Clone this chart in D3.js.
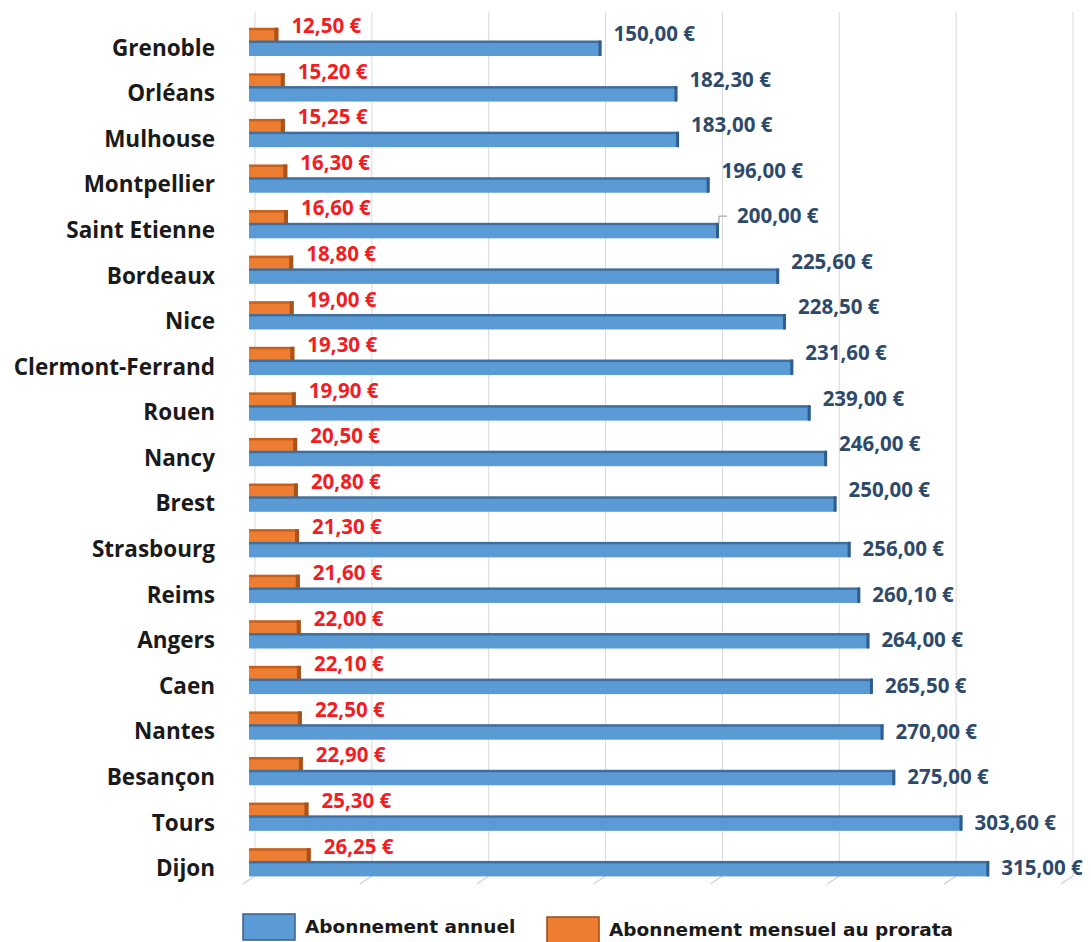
<!DOCTYPE html>
<html>
<head>
<meta charset="utf-8">
<script src="https://cdn.jsdelivr.net/npm/d3@7"></script>
<style>
  body { margin: 0; background: #fff; }
  svg { display: block; }
</style>
</head>
<body>
<div id="chart"></div>
<script>
// data
const cities = ["Grenoble", "Orléans", "Mulhouse", "Montpellier", "Saint Etienne", "Bordeaux", "Nice",
  "Clermont-Ferrand", "Rouen", "Nancy", "Brest", "Strasbourg", "Reims", "Angers", "Caen", "Nantes",
  "Besançon", "Tours", "Dijon"];
const annual = [150, 182.3, 183, 196, 200, 225.6, 228.5, 231.6, 239, 246, 250, 256, 260.1, 264, 265.5,
  270, 275, 303.6, 315];
const monthly = [12.5, 15.2, 15.25, 16.3, 16.6, 18.8, 19, 19.3, 19.9, 20.5, 20.8, 21.3, 21.6, 22, 22.1,
  22.5, 22.9, 25.3, 26.25];
const gridTicks = [0, 50, 100, 150, 200, 250, 300, 350];
const seriesNames = ["Abonnement annuel", "Abonnement mensuel au prorata"];

const width = 1091;
const height = 942;

const fmt = (v) => v.toFixed(2).replace(".", ",") + " €";

const svg = d3.select("#chart").append("svg")
  .attr("width", width)
  .attr("height", height);

// front face scale and back wall scale (3D look)
const x = d3.scaleLinear().domain([0, 350]).range([249, 1071.5]);
const xBack = d3.scaleLinear().domain([0, 350]).range([255, 1073]);
const y = d3.scaleBand().domain(cities).range([25, 891]).paddingInner(0);
const bw = y.bandwidth();

// back wall gridlines + slanted floor ticks
const grid = svg.append("g");
grid.selectAll("line.grid")
  .data(gridTicks)
  .enter()
  .append("line")
  .attr("x1", (d) => xBack(d))
  .attr("x2", (d) => xBack(d))
  .attr("y1", 12)
  .attr("y2", 876)
  .attr("stroke", "#d9d9d9")
  .attr("stroke-width", 1);
grid.selectAll("line.floor")
  .data(gridTicks)
  .enter()
  .append("line")
  .attr("x1", (d) => xBack(d))
  .attr("x2", (d) => xBack(d) - 12)
  .attr("y1", 876)
  .attr("y2", 884)
  .attr("stroke", "#d0d0d0")
  .attr("stroke-width", 1.2);

const rows = svg.selectAll(".row")
  .data(cities.map((c, i) => ({ city: c, annual: annual[i], monthly: monthly[i], i })))
  .enter()
  .append("g")
  .attr("class", "row");

// orange bar (monthly) - behind, slightly above
rows.append("rect")
  .attr("x", x(0))
  .attr("y", (d) => y(d.city) + bw * 0.1)
  .attr("width", (d) => x(d.monthly) - x(0))
  .attr("height", bw * 0.3)
  .attr("fill", "#ed7d31");
rows.append("rect") // top face
  .attr("x", x(0))
  .attr("y", (d) => y(d.city) + bw * 0.06)
  .attr("width", (d) => x(d.monthly) - x(0))
  .attr("height", 2.5)
  .attr("fill", "#c65f1c");
rows.append("rect") // right side
  .attr("x", (d) => x(d.monthly) - 4)
  .attr("y", (d) => y(d.city) + bw * 0.06)
  .attr("width", 4)
  .attr("height", bw * 0.34)
  .attr("fill", "#a9521a");

// blue bar (annual)
rows.append("rect")
  .attr("x", x(0))
  .attr("y", (d) => y(d.city) + bw * 0.38)
  .attr("width", (d) => x(d.annual) - x(0))
  .attr("height", bw * 0.3)
  .attr("fill", "#5b9bd5");
rows.append("rect") // top face
  .attr("x", x(0))
  .attr("y", (d) => y(d.city) + bw * 0.34)
  .attr("width", (d) => x(d.annual) - x(0))
  .attr("height", 2.5)
  .attr("fill", "#3f6f9e");
rows.append("rect") // right end
  .attr("x", (d) => x(d.annual) - 3)
  .attr("y", (d) => y(d.city) + bw * 0.34)
  .attr("width", 3)
  .attr("height", bw * 0.34)
  .attr("rx", 1)
  .attr("fill", "#2f5f8e");

// city labels
rows.append("text")
  .attr("x", 215)
  .attr("y", (d) => y(d.city) + bw * 0.5)
  .attr("dy", "0.35em")
  .attr("text-anchor", "end")
  .style("font-family", "'Open Sans', sans-serif")
  .style("font-weight", "bold")
  .style("font-size", "22.5px")
  .attr("fill", "#1a1a1a")
  .text((d) => d.city);

// monthly value labels (red)
rows.append("text")
  .attr("x", (d) => x(d.monthly) + 13)
  .attr("y", (d) => y(d.city) + bw * 0.02)
  .attr("dy", "0.35em")
  .style("font-family", "'Open Sans', sans-serif")
  .style("font-weight", "bold")
  .style("font-size", "20.5px")
  .attr("fill", "#f01e24")
  .text((d) => fmt(d.monthly));

// annual value labels (dark blue); upper rows were nudged up in the original
rows.append("text")
  .attr("x", (d) => x(d.annual) + (d.i === 4 ? 18 : 12))
  .attr("y", (d) => y(d.city) + bw * 0.5 + (d.i < 11 ? -14 : 0))
  .attr("dy", "0.35em")
  .style("font-family", "'Open Sans', sans-serif")
  .style("font-weight", "bold")
  .style("font-size", "20.5px")
  .attr("fill", "#2e4a6a")
  .text((d) => fmt(d.annual));

// leader line for Saint Etienne label
const se = cities[4];
svg.append("path")
  .attr("d", `M${x(annual[4])},${y(se) + bw * 0.36} V${y(se) + bw * 0.5 - 14} h8`)
  .attr("fill", "none")
  .attr("stroke", "#999")
  .attr("stroke-width", 1);

// legend
const legendColors = ["#5b9bd5", "#ed7d31"];
const legendStroke = ["#3a5f85", "#9a4a1a"];
const legendX = [243, 547];
const legend = svg.selectAll(".legend")
  .data(seriesNames)
  .enter()
  .append("g")
  .attr("class", "legend")
  .attr("transform", (d, i) => `translate(${legendX[i]}, ${914 + i * 3})`);
legend.append("rect")
  .attr("width", 52)
  .attr("height", 26)
  .attr("fill", (d, i) => legendColors[i])
  .attr("stroke", (d, i) => legendStroke[i])
  .attr("stroke-width", 1.5);
legend.append("text")
  .attr("x", 62)
  .attr("y", 13)
  .attr("dy", "0.35em")
  .style("font-family", "'DejaVu Sans', sans-serif")
  .style("font-weight", "bold")
  .style("font-size", "18.5px")
  .attr("fill", "#1a1a1a")
  .text((d) => d);
</script>
</body>
</html>
